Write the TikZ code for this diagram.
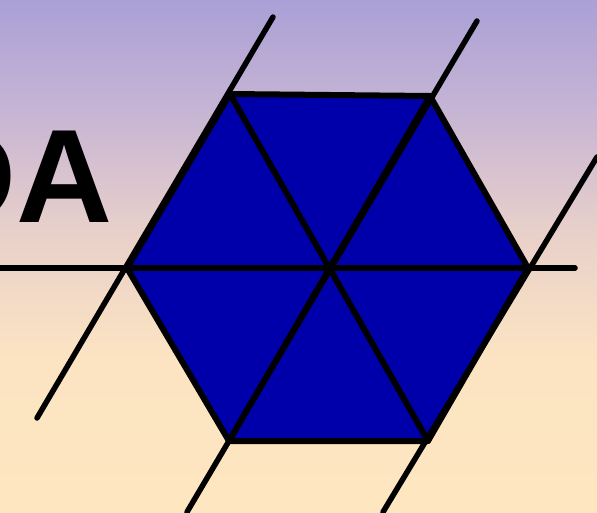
\documentclass[tikz,border=0pt]{standalone}
\usepackage{fontspec}
\setmainfont{Liberation Sans}
\definecolor{bgA}{RGB}{253,230,192}
\definecolor{bgB}{RGB}{252,228,194}
\definecolor{bgC}{RGB}{232,208,202}
\definecolor{bgD}{RGB}{200,182,212}
\definecolor{bgE}{RGB}{170,160,214}
\definecolor{hexblue}{RGB}{0,0,170}
\pgfdeclareverticalshading{bgshade}{100bp}{color(0bp)=(bgA); color(25bp)=(bgA); color(40bp)=(bgB); color(52.5bp)=(bgC); color(63.5bp)=(bgD); color(75bp)=(bgE); color(100bp)=(bgE)}
\tikzset{
  hexedge/.style={line width=6pt, line join=round, line cap=round},
  gridline/.style={line width=5.5pt, line cap=round},
}
\begin{document}
\begin{tikzpicture}[x=1pt,y=-1pt]
\useasboundingbox (0,0) rectangle (597,512);
\shade[shading=bgshade] (0,0) rectangle (597,512);
% text
\node[anchor=base east, inner sep=0, font=\fontsize{133}{133}\selectfont\bfseries] (txt) at (113,222) {DA};
% hexagon vertices
\coordinate (C) at (329,268);
\coordinate (T1) at (230,94);
\coordinate (T2) at (430,96);
\coordinate (R) at (528,268);
\coordinate (B2) at (428,441);
\coordinate (B1) at (229,441);
\coordinate (L) at (127,268);
% line ends
\coordinate (a1) at (273,17);
\coordinate (a2) at (37,418);
\coordinate (b1) at (477,21);
\coordinate (b2) at (187,512);
\coordinate (c1) at (597,157);
\coordinate (c2) at (383,512);
\coordinate (h1) at (0,268);
\coordinate (h2) at (575,268);
\fill[hexblue] (T1) -- (T2) -- (R) -- (B2) -- (B1) -- (L) -- cycle;
\draw[gridline] (h1) -- (h2);
\draw[gridline] (a1) -- (a2);
\draw[gridline] (b1) -- (b2);
\draw[gridline] (c1) -- (c2);
\draw[hexedge] (T1) -- (T2) -- (R) -- (B2) -- (B1) -- (L) -- cycle;
\draw[hexedge] (T1) -- (B2);
\draw[hexedge] (T2) -- (B1);
\draw[hexedge] (L) -- (R);
\end{tikzpicture}
\end{document}
